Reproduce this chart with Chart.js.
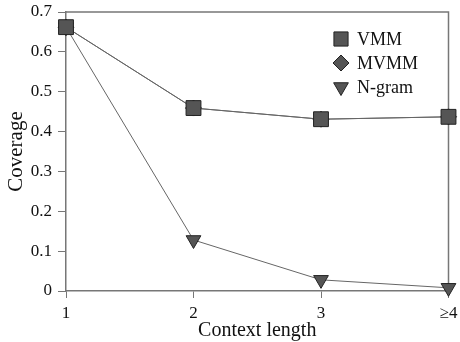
<!DOCTYPE html>
<html>
<head>
<meta charset="utf-8">
<script src="https://cdn.jsdelivr.net/npm/chart.js@4/dist/chart.umd.min.js"></script>
<style>
  html, body { margin: 0; padding: 0; background: #fff; }
  #wrap { width: 460px; height: 342px; position: relative; }
</style>
</head>
<body>
<div id="wrap"><canvas id="chart" width="460" height="342"></canvas></div>
<script>
const contextLengths = [1, 2, 3, 4];
const xTickLabels = ['1', '2', '3', '\u22654'];
const yTicks = [0, 0.1, 0.2, 0.3, 0.4, 0.5, 0.6, 0.7];
const vmm = [0.662, 0.459, 0.431, 0.437];
const mvmm = [0.662, 0.459, 0.431, 0.437];
const ngram = [0.662, 0.128, 0.028, 0.008];

const serif = "'Liberation Serif', 'DejaVu Serif', serif";
const axisGray = '#777';
const markFill = '#555';

function pts(vals) { return vals.map((v, i) => ({ x: contextLengths[i], y: v })); }

// frame on top and right, plus legend inside the plot
const framePlugin = {
    id: 'frame',
    beforeDatasetsDraw(chart) {
        const { ctx, chartArea: a } = chart;
        ctx.save();
        ctx.strokeStyle = axisGray;
        ctx.lineWidth = 1.5;
        ctx.beginPath();
        ctx.moveTo(a.left, a.top); ctx.lineTo(a.right, a.top); ctx.lineTo(a.right, a.bottom);
        ctx.stroke();
        ctx.restore();
    },
    afterDraw(chart) {
        const { ctx, chartArea: a } = chart;
        ctx.save();
        chart.data.datasets.forEach((d, i) => {
            const x = a.left + 275, y = a.top + 27 + i * 24;
            ctx.fillStyle = markFill;
            ctx.strokeStyle = '#222';
            ctx.lineWidth = 1;
            Chart.helpers.drawPoint(ctx, {
                pointStyle: d.pointStyle, radius: d.legendRadius, rotation: d.rotation || 0, borderWidth: 1
            }, x, y);
            ctx.fillStyle = '#111';
            ctx.font = '18px ' + serif;
            ctx.textBaseline = 'middle';
            ctx.textAlign = 'left';
            ctx.fillText(d.label, x + 16, y + 1);
        });
        ctx.restore();
    }
};

const chart = new Chart(document.getElementById('chart'), {
    type: 'line',
    data: {
        datasets: [
            { label: 'VMM', data: pts(vmm), pointStyle: 'rect', pointRadius: 10.5, legendRadius: 10 },
            { label: 'MVMM', data: pts(mvmm), pointStyle: 'rectRot', pointRadius: 8, legendRadius: 8 },
            { label: 'N-gram', data: pts(ngram), pointStyle: 'triangle', rotation: 180, pointRadius: 8.5, legendRadius: 8.5 }
        ].map(d => Object.assign({
            borderColor: '#666', borderWidth: 1, backgroundColor: markFill,
            pointBackgroundColor: markFill, pointBorderColor: '#222', pointBorderWidth: 1,
            pointRotation: d.rotation || 0, tension: 0, clip: false
        }, d))
    },
    options: {
        responsive: false,
        animation: false,
        layout: { padding: { top: 12, right: 11, left: 0, bottom: 0 } },
        plugins: { legend: { display: false }, tooltip: { enabled: false } },
        scales: {
            x: {
                type: 'linear', min: 1, max: 4,
                afterBuildTicks(s) { s.ticks = contextLengths.map(v => ({ value: v })); },
                afterFit(s) { s.height = 51; s.paddingLeft = 0; s.paddingRight = 0; },
                grid: { display: true, drawOnChartArea: false, tickLength: 7, color: axisGray, lineWidth: 1 },
                border: { color: axisGray, width: 1.5 },
                ticks: {
                    color: '#111', font: { family: serif, size: 17 }, padding: 5, maxRotation: 0,
                    callback: (v) => xTickLabels[contextLengths.indexOf(v)]
                },
                title: { display: true, text: 'Context length', color: '#111', font: { family: serif, size: 20 }, padding: { top: 0, bottom: -1 } }
            },
            y: {
                min: 0, max: 0.7,
                afterBuildTicks(s) { s.ticks = yTicks.map(v => ({ value: v })); },
                afterFit(s) { s.width = 66; s.paddingTop = 0; s.paddingBottom = 0; },
                grid: { display: true, drawOnChartArea: false, tickLength: 8, color: axisGray, lineWidth: 1 },
                border: { color: axisGray, width: 1.5 },
                ticks: {
                    color: '#111', font: { family: serif, size: 17 }, padding: 6,
                    callback: (v) => v === 0 ? '0' : v.toFixed(1)
                },
                title: { display: true, text: 'Coverage', color: '#111', font: { family: serif, size: 21 }, padding: { top: 4, bottom: 0 } }
            }
        }
    },
    plugins: [framePlugin]
});
</script>
</body>
</html>
